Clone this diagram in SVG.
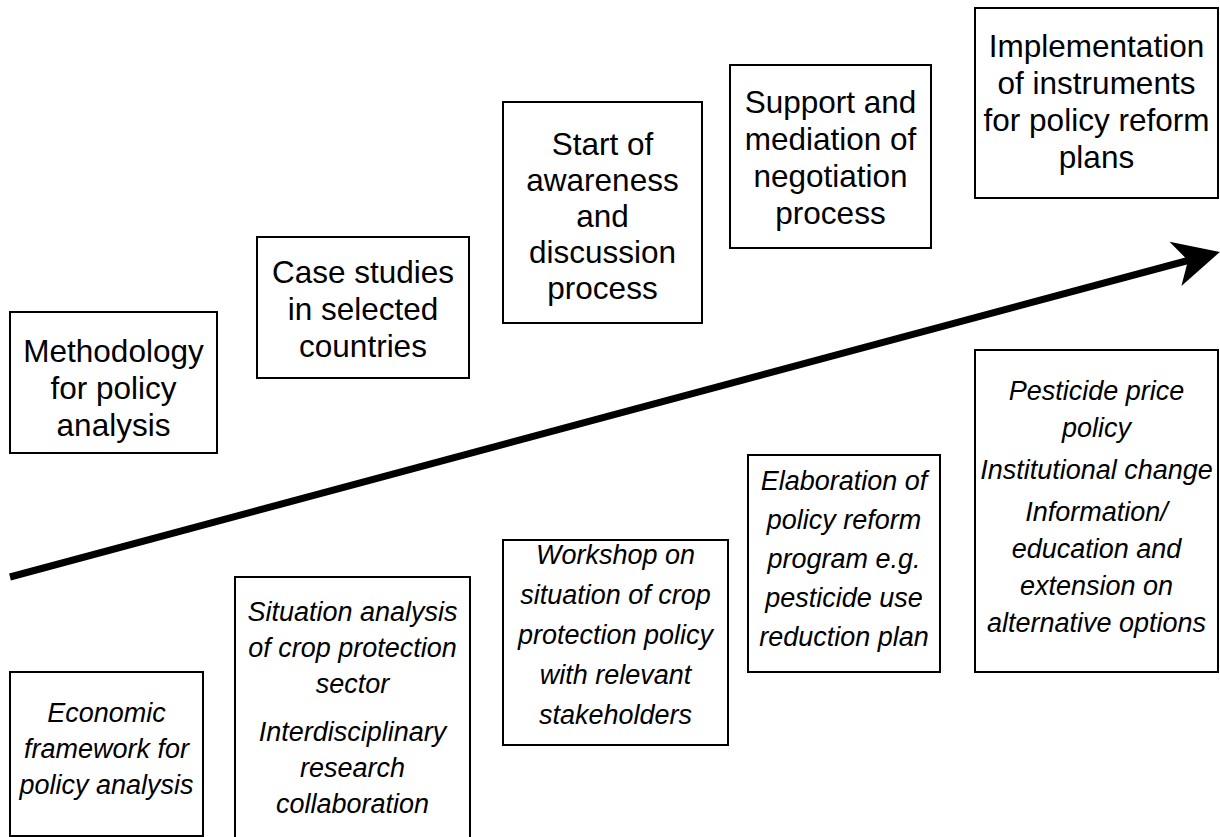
<svg xmlns="http://www.w3.org/2000/svg" width="1220" height="837" viewBox="0 0 1220 837">
<defs>
<style>
.box{fill:#fff;stroke:#000;stroke-width:2}
.t{font-family:"Liberation Sans",Arial,sans-serif;font-size:31.5px;fill:#000;text-anchor:middle}
.i{font-family:"Liberation Sans",Arial,sans-serif;font-size:27px;font-style:italic;fill:#000;text-anchor:middle}
.arrow{fill:none;stroke:#000;stroke-width:7}
</style>
<marker id="head" markerUnits="userSpaceOnUse" orient="auto" refX="0" refY="0" markerWidth="80" markerHeight="60" overflow="visible">
<path d="M33,0 L-13,-23 L0,0 L-13,23 Z" fill="#000"/>
</marker>
</defs>
<rect width="1220" height="837" fill="#fff"/>

<g id="connectors">
<line class="arrow" x1="10" y1="577" x2="1188" y2="260.5" marker-end="url(#head)"/>
</g>

<g id="n1">
<rect class="box" x="10" y="312" width="207" height="141"/>
<text class="t" x="113.5" y="362">Methodology</text>
<text class="t" x="113.5" y="399">for policy</text>
<text class="t" x="113.5" y="436">analysis</text>
</g>
<g id="n2">
<rect class="box" x="257" y="237" width="212" height="141"/>
<text class="t" x="363" y="283">Case studies</text>
<text class="t" x="363" y="320">in selected</text>
<text class="t" x="363" y="357">countries</text>
</g>
<g id="n3">
<rect class="box" x="503" y="102" width="199" height="221"/>
<text class="t" x="602.5" y="155">Start of</text>
<text class="t" x="602.5" y="191">awareness</text>
<text class="t" x="602.5" y="227">and</text>
<text class="t" x="602.5" y="263">discussion</text>
<text class="t" x="602.5" y="299">process</text>
</g>
<g id="n4">
<rect class="box" x="730" y="65" width="201" height="183"/>
<text class="t" x="830.5" y="113">Support and</text>
<text class="t" x="830.5" y="150">mediation of</text>
<text class="t" x="830.5" y="187">negotiation</text>
<text class="t" x="830.5" y="224">process</text>
</g>
<g id="n5">
<rect class="box" x="975" y="8" width="243" height="190"/>
<text class="t" x="1096.5" y="57">Implementation</text>
<text class="t" x="1096.5" y="94">of instruments</text>
<text class="t" x="1096.5" y="131">for policy reform</text>
<text class="t" x="1096.5" y="168">plans</text>
</g>

<g id="n6">
<rect class="box" x="10" y="672" width="193" height="164"/>
<text class="i" x="106.5" y="722">Economic</text>
<text class="i" x="106.5" y="758">framework for</text>
<text class="i" x="106.5" y="794">policy analysis</text>
</g>
<g id="n7">
<rect class="box" x="235" y="577" width="235" height="270"/>
<text class="i" x="352.5" y="621">Situation analysis</text>
<text class="i" x="352.5" y="657">of crop protection</text>
<text class="i" x="352.5" y="693">sector</text>
<text class="i" x="352.5" y="741">Interdisciplinary</text>
<text class="i" x="352.5" y="777">research</text>
<text class="i" x="352.5" y="813">collaboration</text>
</g>
<g id="n8">
<rect class="box" x="503" y="540" width="225" height="205"/>
<text class="i" x="615.5" y="564">Workshop on</text>
<text class="i" x="615.5" y="604">situation of crop</text>
<text class="i" x="615.5" y="644">protection policy</text>
<text class="i" x="615.5" y="684">with relevant</text>
<text class="i" x="615.5" y="724">stakeholders</text>
</g>
<g id="n9">
<rect class="box" x="748" y="455" width="192" height="217"/>
<text class="i" x="844" y="490">Elaboration of</text>
<text class="i" x="844" y="529">policy reform</text>
<text class="i" x="844" y="568">program e.g.</text>
<text class="i" x="844" y="607">pesticide use</text>
<text class="i" x="844" y="646">reduction plan</text>
</g>
<g id="n10">
<rect class="box" x="975" y="350" width="243" height="322"/>
<text class="i" x="1096.5" y="400">Pesticide price</text>
<text class="i" x="1096.5" y="437">policy</text>
<text class="i" x="1096.5" y="479">Institutional change</text>
<text class="i" x="1096.5" y="521">Information/</text>
<text class="i" x="1096.5" y="558">education and</text>
<text class="i" x="1096.5" y="595">extension on</text>
<text class="i" x="1096.5" y="632">alternative options</text>
</g>
</svg>
